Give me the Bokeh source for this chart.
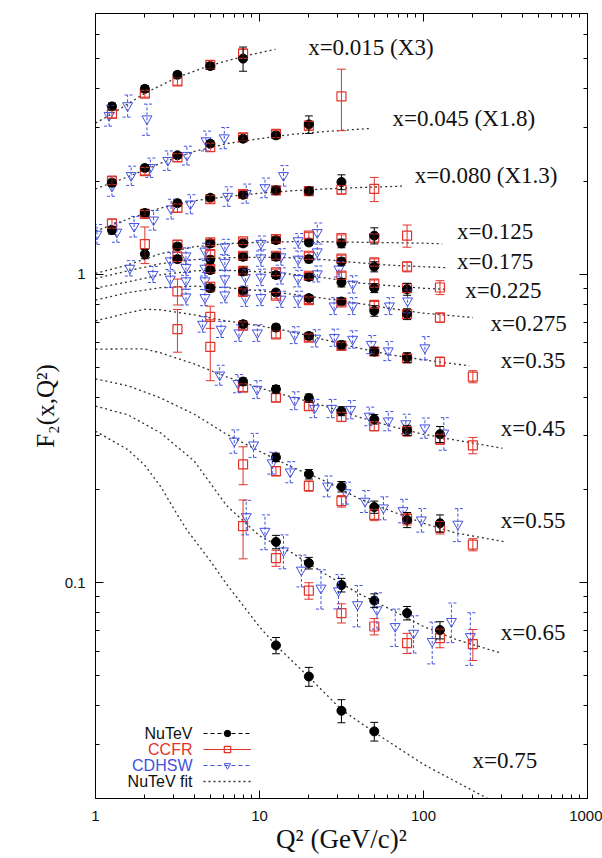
from bokeh.plotting import figure
from bokeh.models import (ColumnDataSource, Whisker, TeeHead, FixedTicker, CustomJSTickFormatter,
                          LogAxis, Legend, LegendItem, Label, BoxAnnotation)
from bokeh.embed import file_html
from bokeh.resources import INLINE
from bokeh.core.properties import value

# ---------------- data (displayed values, already scaled) ----------------
X_BINS = ["0.015", "0.045", "0.080", "0.125", "0.175", "0.225", "0.275", "0.35", "0.45", "0.55", "0.65", "0.75"]
CURVE_LABELS = ["x=0.015 (X3)", "x=0.045 (X1.8)", "x=0.080 (X1.3)", "x=0.125", "x=0.175", "x=0.225",
                "x=0.275", "x=0.35", "x=0.45", "x=0.55", "x=0.65", "x=0.75"]

NUTEV_Q2 = [
    [1.26, 2.0, 3.16, 5.01, 7.94],
    [1.26, 2.0, 3.16, 5.01, 7.94, 12.6, 20.0],
    [1.26, 2.0, 3.16, 5.01, 7.94, 12.6, 20.0, 31.6],
    [2.0, 3.16, 5.01, 7.94, 12.6, 20.0, 31.6, 50.1],
    [3.16, 5.01, 7.94, 12.6, 20.0, 31.6, 50.1],
    [5.01, 7.94, 12.6, 20.0, 31.6, 50.1, 79.4],
    [5.01, 7.94, 12.6, 20.0, 31.6, 50.1, 79.4],
    [7.94, 12.6, 20.0, 31.6, 50.1, 79.4],
    [7.94, 12.6, 20.0, 31.6, 50.1, 79.4, 126],
    [12.6, 20.0, 31.6, 50.1, 79.4, 126],
    [12.6, 20.0, 31.6, 50.1, 79.4, 126],
    [12.6, 20.0, 31.6, 50.1],
]
NUTEV_F2 = [
    [3.50, 3.99, 4.43, 4.73, 5.00],
    [1.98, 2.21, 2.43, 2.65, 2.75, 2.82, 3.06],
    [1.39, 1.58, 1.70, 1.77, 1.81, 1.87, 1.86, 1.99],
    [1.163, 1.231, 1.259, 1.259, 1.291, 1.268, 1.259, 1.334],
    [1.120, 1.115, 1.140, 1.140, 1.120, 1.100, 1.058],
    [1.032, 1.021, 0.994, 0.981, 0.940, 0.902, 0.895],
    [0.902, 0.884, 0.873, 0.837, 0.816, 0.761, 0.743],
    [0.689, 0.672, 0.631, 0.590, 0.562, 0.537],
    [0.449, 0.424, 0.397, 0.360, 0.339, 0.312, 0.303],
    [0.255, 0.225, 0.205, 0.176, 0.160, 0.156],
    [0.1357, 0.1159, 0.0984, 0.0876, 0.0798, 0.0703],
    [0.0627, 0.0497, 0.0385, 0.0330],
]
NUTEV_ERR = [
    [0.09, 0.10, 0.10, 0.12, 0.45],
    [0.05, 0.05, 0.05, 0.06, 0.06, 0.07, 0.20],
    [0.04, 0.04, 0.04, 0.04, 0.04, 0.05, 0.05, 0.11],
    [0.04, 0.03, 0.03, 0.03, 0.03, 0.03, 0.04, 0.08],
    [0.03, 0.03, 0.03, 0.03, 0.03, 0.03, 0.04],
    [0.025, 0.025, 0.025, 0.025, 0.03, 0.03, 0.04],
    [0.025, 0.02, 0.02, 0.02, 0.02, 0.03, 0.03],
    [0.018, 0.017, 0.017, 0.017, 0.017, 0.02],
    [0.012, 0.012, 0.012, 0.012, 0.012, 0.012, 0.018],
    [0.008, 0.008, 0.008, 0.008, 0.009, 0.01],
    [0.0068, 0.005, 0.005, 0.0045, 0.004, 0.0045],
    [0.0038, 0.0035, 0.0033, 0.0023],
]

CCFR_Q2 = [
    [1.26, 2.0, 3.16, 5.01, 7.94],
    [1.26, 2.0, 3.16, 5.01, 7.94, 12.6, 20.0, 31.6],
    [1.26, 2.0, 3.16, 5.01, 7.94, 12.6, 20.0, 31.6, 50.1],
    [2.0, 3.16, 5.01, 7.94, 12.6, 20.0, 31.6, 50.1, 79.4],
    [3.16, 5.01, 7.94, 12.6, 20.0, 31.6, 50.1, 79.4],
    [5.01, 7.94, 12.6, 20.0, 31.6, 50.1, 79.4, 126],
    [3.16, 5.01, 7.94, 12.6, 20.0, 31.6, 50.1, 79.4, 126],
    [3.16, 5.01, 7.94, 12.6, 20.0, 31.6, 50.1, 79.4, 126, 200],
    [5.01, 7.94, 12.6, 20.0, 31.6, 50.1, 79.4, 126, 200],
    [7.94, 12.6, 20.0, 31.6, 50.1, 79.4, 126, 200],
    [7.94, 12.6, 20.0, 31.6, 50.1, 79.4, 126, 200],
    [],
]
CCFR_F2 = [
    [3.31, 3.85, 4.22, 4.77, 5.19],
    [2.01, 2.16, 2.39, 2.58, 2.78, 2.85, 3.03, 3.77],
    [1.46, 1.57, 1.64, 1.75, 1.82, 1.87, 1.86, 1.88, 1.89],
    [1.253, 1.247, 1.268, 1.278, 1.301, 1.334, 1.311, 1.311, 1.334],
    [1.140, 1.163, 1.148, 1.148, 1.148, 1.123, 1.092, 1.058],
    [1.040, 1.026, 1.014, 0.989, 0.990, 0.933, 0.902, 0.906],
    [0.880, 0.911, 0.877, 0.852, 0.824, 0.810, 0.796, 0.743, 0.724],
    [0.664, 0.728, 0.681, 0.639, 0.623, 0.586, 0.562, 0.534, 0.521, 0.466],
    [0.582, 0.429, 0.398, 0.374, 0.345, 0.322, 0.310, 0.292, 0.279],
    [0.242, 0.230, 0.206, 0.184, 0.166, 0.161, 0.151, 0.133],
    [0.1526, 0.1203, 0.0943, 0.0798, 0.0722, 0.0638, 0.0662, 0.0633],
    [],
]
CCFR_ERR = [
    [0.10, 0.10, 0.12, 0.15, 0.18],
    [0.06, 0.06, 0.07, 0.08, 0.08, 0.08, 0.10, 0.85],
    [0.05, 0.04, 0.05, 0.05, 0.05, 0.05, 0.05, 0.06, 0.17],
    [0.17, 0.04, 0.03, 0.03, 0.03, 0.03, 0.03, 0.04, 0.11],
    [0.04, 0.03, 0.03, 0.03, 0.03, 0.03, 0.03, 0.04],
    [0.03, 0.025, 0.025, 0.025, 0.025, 0.025, 0.03, 0.047],
    [0.085, 0.03, 0.02, 0.02, 0.02, 0.02, 0.02, 0.025, 0.025],
    [0.105, 0.06, 0.02, 0.017, 0.017, 0.017, 0.016, 0.016, 0.016, 0.021],
    [0.13, 0.012, 0.012, 0.012, 0.012, 0.011, 0.011, 0.011, 0.017],
    [0.034, 0.008, 0.008, 0.008, 0.007, 0.007, 0.007, 0.006],
    [0.033, 0.0072, 0.0058, 0.0057, 0.0044, 0.0048, 0.0046, 0.0073],
    [],
]

CDHSW_Q2 = [
    [1.21, 1.57, 2.06],
    [1.26, 1.65, 2.16, 2.76, 3.61, 4.72, 6.1],
    [1.02, 1.35, 1.72, 2.26, 2.89, 3.79, 6.4, 8.3, 10.8, 14.0],
    [3.56, 4.65, 6.15, 10.2, 17.2, 22.5],
    [1.62, 2.86, 3.56, 4.65, 6.15, 10.2, 13.5, 17.2, 22.5, 30.5],
    [2.24, 2.86, 3.56, 4.65, 6.15, 8.2, 10.2, 13.5, 17.2, 22.5, 37.0],
    [3.56, 4.65, 6.15, 8.2, 10.2, 13.5, 17.2, 28.5, 37.0, 62.0, 80.0],
    [4.5, 5.83, 7.5, 9.7, 16.4, 22.0, 28.6, 37.0, 48.0, 61.0, 102],
    [5.72, 7.4, 9.66, 16.4, 21.6, 27.5, 36.0, 46.7, 61.0, 78.0, 102, 133],
    [7.02, 9.2, 11.96, 15.4, 26.0, 33.7, 44.0, 57.0, 75.0, 97.0, 162],
    [8.3, 10.8, 14.0, 18.0, 23.7, 30.3, 39.6, 52.0, 67.2, 87.0, 113, 148, 193],
    [],
]
CDHSW_F2 = [
    [3.27, 3.52, 3.19],
    [1.93, 2.09, 2.22, 2.34, 2.43, 2.71, 2.77],
    [1.35, 1.37, 1.43, 1.50, 1.63, 1.69, 1.79, 1.83, 1.91, 2.09],
    [1.148, 1.19, 1.228, 1.26, 1.285, 1.366],
    [1.047, 1.106, 1.052, 1.047, 1.092, 1.131, 1.14, 1.12, 1.183, 1.04],
    [1.0, 0.965, 0.953, 0.953, 0.967, 0.976, 0.979, 0.989, 0.97, 1.004, 0.929],
    [0.845, 0.841, 0.858, 0.837, 0.841, 0.831, 0.831, 0.79, 0.79, 0.79, 0.82],
    [0.689, 0.664, 0.646, 0.646, 0.636, 0.621, 0.624, 0.616, 0.593, 0.565, 0.578],
    [0.472, 0.443, 0.424, 0.390, 0.368, 0.368, 0.365, 0.347, 0.335, 0.328, 0.318, 0.306],
    [0.288, 0.280, 0.245, 0.229, 0.206, 0.196, 0.184, 0.175, 0.1715, 0.160, 0.155],
    [0.164, 0.147, 0.127, 0.110, 0.0962, 0.0943, 0.0850, 0.0818, 0.0722, 0.0687, 0.0646, 0.075, 0.067],
    [],
]
CDHSW_ERR = [
    [0.25, 0.29, 0.37],
    [0.14, 0.15, 0.16, 0.17, 0.17, 0.20, 0.22],
    [0.10, 0.10, 0.11, 0.11, 0.12, 0.12, 0.13, 0.13, 0.14, 0.16],
    [0.07, 0.07, 0.07, 0.07, 0.07, 0.10],
    [0.06, 0.07, 0.06, 0.06, 0.06, 0.07, 0.07, 0.07, 0.07, 0.06],
    [0.06, 0.06, 0.06, 0.06, 0.06, 0.06, 0.06, 0.06, 0.06, 0.06, 0.06],
    [0.05, 0.05, 0.05, 0.05, 0.05, 0.05, 0.05, 0.05, 0.05, 0.05, 0.07],
    [0.04, 0.04, 0.04, 0.04, 0.04, 0.04, 0.04, 0.04, 0.04, 0.04, 0.05],
    [0.035, 0.03, 0.028, 0.026, 0.025, 0.025, 0.025, 0.024, 0.024, 0.024, 0.024, 0.037],
    [0.025, 0.025, 0.02, 0.018, 0.016, 0.016, 0.015, 0.015, 0.015, 0.014, 0.019],
    [0.021, 0.019, 0.016, 0.013, 0.014, 0.012, 0.013, 0.011, 0.010, 0.0095, 0.010, 0.011, 0.013],
    [],
]

FIT_Q2 = [
    [1, 1.26, 2, 3.16, 5, 7.94, 12.5],
    [1, 1.58, 2.5, 4, 6.3, 10, 15.8, 25, 48],
    [1, 1.58, 2.5, 4, 6.3, 10, 15.8, 25, 40, 74],
    [1, 1.58, 2.5, 4, 6.3, 10, 15.8, 25, 40, 63, 100, 130],
    [1, 1.58, 2.5, 4, 6.3, 10, 15.8, 25, 40, 63, 100, 140],
    [1, 1.58, 2.5, 4, 6.3, 10, 15.8, 25, 40, 63, 100, 140],
    [1, 1.58, 2.5, 4, 6.3, 10, 15.8, 25, 40, 63, 100, 200],
    [1, 1.58, 2, 2.5, 4, 6.3, 10, 15.8, 25, 40, 63, 100, 190],
    [1, 1.58, 2, 2.5, 4, 6.3, 10, 15.8, 25, 40, 63, 100, 158, 303],
    [1, 1.58, 2.5, 4, 6.3, 10, 15.8, 25, 40, 63, 100, 158, 310],
    [1, 1.58, 2.5, 4, 6.3, 10, 15.8, 25, 40, 63, 100, 158, 297],
    [1, 1.58, 2, 2.5, 3.16, 3.65, 4, 5, 6.3, 8, 10, 12.6, 20, 31.6, 50, 100, 250],
]
FIT_F2 = [
    [3.09, 3.31, 3.86, 4.35, 4.75, 5.08, 5.36],
    [1.89, 2.07, 2.29, 2.50, 2.65, 2.75, 2.84, 2.90, 2.97],
    [1.38, 1.51, 1.64, 1.73, 1.785, 1.83, 1.865, 1.89, 1.91, 1.93],
    [1.006, 1.073, 1.166, 1.228, 1.256, 1.27, 1.275, 1.275, 1.27, 1.266, 1.261, 1.255],
    [0.969, 1.026, 1.082, 1.115, 1.131, 1.135, 1.131, 1.115, 1.09, 1.07, 1.058, 1.05],
    [0.902, 0.945, 0.996, 1.026, 1.03, 1.019, 1.0, 0.974, 0.938, 0.918, 0.901, 0.893],
    [0.825, 0.872, 0.905, 0.915, 0.905, 0.885, 0.862, 0.835, 0.805, 0.775, 0.748, 0.724],
    [0.706, 0.75, 0.77, 0.767, 0.739, 0.706, 0.681, 0.651, 0.613, 0.577, 0.548, 0.528, 0.505],
    [0.572, 0.573, 0.573, 0.556, 0.512, 0.465, 0.428, 0.400, 0.374, 0.345, 0.322, 0.303, 0.290, 0.273],
    [0.458, 0.435, 0.397, 0.352, 0.303, 0.267, 0.237, 0.214, 0.188, 0.171, 0.156, 0.145, 0.136],
    [0.374, 0.350, 0.306, 0.248, 0.178, 0.142, 0.125, 0.107, 0.0925, 0.082, 0.0722, 0.0655, 0.0592],
    [0.310, 0.270, 0.240, 0.205, 0.166, 0.147, 0.138, 0.118, 0.099, 0.084, 0.072, 0.0627, 0.0495,
     0.0388, 0.0328, 0.0258, 0.0199],
]

# label anchor positions (annotation layout, data coordinates)
LABEL_POS_Q2 = [19.8, 64.8, 88.5, 160, 160, 180, 256, 296, 296, 296, 296, 199]
LABEL_POS_F2 = [5.45, 3.19, 2.088, 1.374, 1.098, 0.886, 0.692, 0.526, 0.3157, 0.159, 0.0692, 0.0265]

X_MAJOR = [1, 10, 100, 1000]
X_MINOR = [2, 3, 4, 5, 6, 7, 8, 9, 20, 30, 40, 50, 60, 70, 80, 90, 200, 300, 400, 500, 600, 700, 800, 900]
Y_MAJOR = [0.1, 1]
Y_MINOR = [0.02, 0.03, 0.04, 0.05, 0.06, 0.07, 0.08, 0.09, 0.2, 0.3, 0.4, 0.5, 0.6, 0.7, 0.8, 0.9,
           2, 3, 4, 5, 6, 7]

LEGEND_NAMES = ["NuTeV", "CCFR", "CDHSW", "NuTeV fit"]

RED = "#e2332b"
BLUE = "#4251e0"
BEIGE = "#f8e6c6"
SERIF = "Liberation Serif"
SANS = "Liberation Sans"
NAN = float("nan")


def make_source(qs, fs, es):
    x, y, lo, up = [], [], [], []
    for q, f, e in zip(qs, fs, es):
        for a, b, c in zip(q, f, e):
            x.append(a)
            y.append(b)
            lo.append(b - c)
            up.append(b + c)
    return ColumnDataSource(dict(x=x, y=y, lo=lo, up=up))


p = figure(width=602, height=858, x_axis_type="log", y_axis_type="log",
           x_range=(1, 1000), y_range=(0.02, 7),
           output_backend="svg", toolbar_location=None,
           min_border_left=95, min_border_right=15, min_border_top=13, min_border_bottom=60)
p.background_fill_color = "white"
p.border_fill_color = "white"
p.outline_line_color = "black"
p.outline_line_width = 1
p.xgrid.visible = False
p.ygrid.visible = False

# beige page edge (left and top strips of the canvas)
p.add_layout(BoxAnnotation(left=0, right=10, top=0, bottom=858,
                           left_units="canvas", right_units="canvas",
                           top_units="canvas", bottom_units="canvas",
                           fill_color=BEIGE, fill_alpha=1, line_alpha=0, level="underlay"))
p.add_layout(BoxAnnotation(left=0, right=602, top=0, bottom=6,
                           left_units="canvas", right_units="canvas",
                           top_units="canvas", bottom_units="canvas",
                           fill_color=BEIGE, fill_alpha=1, line_alpha=0, level="underlay"))

fmt = CustomJSTickFormatter(code="return tick.toString();")
xax = p.below[0]
yax = p.left[0]
xax.ticker = FixedTicker(ticks=X_MAJOR, minor_ticks=X_MINOR)
yax.ticker = FixedTicker(ticks=Y_MAJOR, minor_ticks=Y_MINOR)
for ax in (xax, yax):
    ax.formatter = fmt
    ax.major_tick_in = 8
    ax.major_tick_out = 0
    ax.minor_tick_in = 4
    ax.minor_tick_out = 0
    ax.axis_line_color = "black"
    ax.major_label_text_font = SANS
    ax.major_label_text_font_size = "15px"
    ax.major_label_text_color = "#111111"
    ax.axis_label_text_font = SERIF
    ax.axis_label_text_font_style = "normal"
    ax.axis_label_text_color = "#111111"
xax.axis_label = "Q² (GeV/c)²"
yax.axis_label = "F₂(x,Q²)"
xax.axis_label_text_font_size = "27px"
yax.axis_label_text_font_size = "25px"
xax.major_label_standoff = 12
xax.axis_label_standoff = 0
yax.major_label_standoff = 10
yax.axis_label_standoff = 3

blank = CustomJSTickFormatter(code="return '';")
top = LogAxis(ticker=FixedTicker(ticks=X_MAJOR, minor_ticks=X_MINOR), formatter=blank,
              major_tick_in=8, major_tick_out=0, minor_tick_in=4, minor_tick_out=0,
              major_label_standoff=0, major_label_text_font_size="0px", axis_line_color="black")
right = LogAxis(ticker=FixedTicker(ticks=Y_MAJOR, minor_ticks=Y_MINOR), formatter=blank,
                major_tick_in=8, major_tick_out=0, minor_tick_in=4, minor_tick_out=0,
                major_label_standoff=0, major_label_text_font_size="0px", axis_line_color="black")
p.add_layout(top, "above")
p.add_layout(right, "right")

# fit curves
fit_r = p.multi_line(xs=FIT_Q2, ys=FIT_F2, line_color="#333333", line_width=1.3, line_dash="2 3")

nt_src = make_source(NUTEV_Q2, NUTEV_F2, NUTEV_ERR)
cc_src = make_source(CCFR_Q2, CCFR_F2, CCFR_ERR)
cd_src = make_source(CDHSW_Q2, CDHSW_F2, CDHSW_ERR)


def add_err(src, color, dash, head):
    w = Whisker(source=src, base="x", upper="up", lower="lo", dimension="height",
                line_color=color, line_width=1, line_dash=dash,
                upper_head=TeeHead(size=head, line_color=color, line_width=1, line_dash=dash),
                lower_head=TeeHead(size=head, line_color=color, line_width=1, line_dash=dash))
    w.level = "glyph"
    p.add_layout(w)


add_err(cd_src, BLUE, "3 2", 10)
cd_r = p.scatter("x", "y", source=cd_src, marker="inverted_triangle", size=10,
                 line_color=BLUE, fill_alpha=0, line_width=1)
add_err(cc_src, RED, "solid", 9)
cc_r = p.scatter("x", "y", source=cc_src, marker="square", size=9,
                 line_color=RED, fill_alpha=0, line_width=1.2)
add_err(nt_src, "black", "solid", 8)
nt_r = p.scatter("x", "y", source=nt_src, marker="circle", size=9,
                 line_color="black", fill_color="black")

# curve labels
p.text(x=LABEL_POS_Q2, y=LABEL_POS_F2, text=CURVE_LABELS,
       text_font=value(SERIF), text_font_size="23px", text_color="#111111",
       text_align="left", text_baseline="middle")

# legend line samples (single NaN point: nothing is drawn in the plot)
lg_nt = p.line(x=[NAN], y=[NAN], line_color="black", line_dash="4 3", line_width=1)
lg_cc = p.line(x=[NAN], y=[NAN], line_color=RED, line_width=1.2)
lg_cd = p.line(x=[NAN], y=[NAN], line_color=BLUE, line_dash="4 3", line_width=1)

legend = Legend(items=[LegendItem(label=value(" "), renderers=[lg_nt, nt_r]),
                       LegendItem(label=value(" "), renderers=[lg_cc, cc_r]),
                       LegendItem(label=value(" "), renderers=[lg_cd, cd_r]),
                       LegendItem(label=value(" "), renderers=[fit_r])],
                location=(108, 9), orientation="vertical", glyph_width=48, glyph_height=16,
                label_height=16, label_width=0, label_standoff=0, padding=0, spacing=0, margin=0,
                border_line_alpha=0, background_fill_alpha=0, label_text_font_size="1px")
p.add_layout(legend)

for name, color, yy in zip(LEGEND_NAMES, ["#111111", RED, BLUE, "#111111"], [65, 49, 33, 17]):
    p.add_layout(Label(x=97, y=yy, x_units="screen", y_units="screen", text=name,
                       text_align="right", text_baseline="middle", text_font=SANS,
                       text_font_size="16px", text_color=color))

open("out.html", "w").write(file_html(p, INLINE))
